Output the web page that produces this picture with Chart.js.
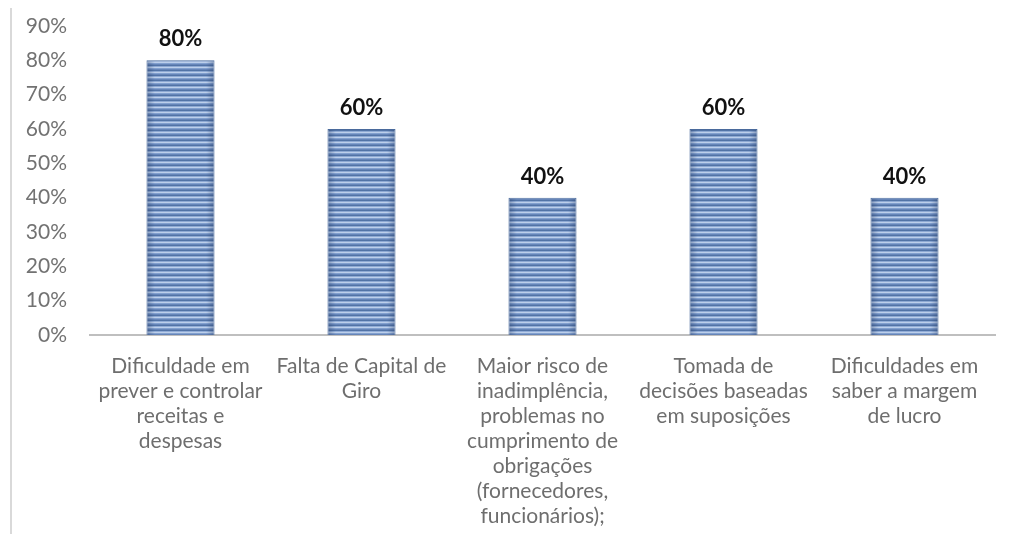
<!DOCTYPE html>
<html>
<head>
<meta charset="utf-8">
<script src="https://cdn.jsdelivr.net/npm/chart.js@4/dist/chart.umd.min.js"></script>
<style>
  html, body { margin: 0; padding: 0; background: #fff; }
  #wrap { width: 1010px; height: 534px; position: relative; }
</style>
</head>
<body>
<div id="wrap"><canvas id="chart" width="1010" height="534"></canvas></div>
<script>
const categories = [
    ['Dificuldade em', 'prever e controlar', 'receitas e', 'despesas'],
    ['Falta de Capital de', 'Giro'],
    ['Maior risco de', 'inadimplência,', 'problemas no', 'cumprimento de', 'obrigações', '(fornecedores,', 'funcionários);'],
    ['Tomada de', 'decisões baseadas', 'em suposições'],
    ['Dificuldades em', 'saber a margem', 'de lucro'],
];
const values = [80, 60, 40, 60, 40];
const yTicks = [0, 10, 20, 30, 40, 50, 60, 70, 80, 90];

const BAR_PCT = 0.376;
const stripeRows = ['#5273a6', '#92add7', '#bccfeb', '#82a0cf', '#6685b8'];

// striped fill like the excel pattern, with darker sides
let tileCache = {};
const makeTile = (w) => {
    if (tileCache[w]) return tileCache[w];
    const c = document.createElement('canvas');
    c.width = w;
    c.height = stripeRows.length;
    const g = c.getContext('2d');
    stripeRows.forEach((col, i) => {
        g.fillStyle = col;
        g.fillRect(0, i, w, 1);
    });
    const grad = g.createLinearGradient(0, 0, w, 0);
    grad.addColorStop(0, 'rgba(30,50,90,0.35)');
    grad.addColorStop(0.12, 'rgba(30,50,90,0)');
    grad.addColorStop(0.88, 'rgba(30,50,90,0)');
    grad.addColorStop(1, 'rgba(30,50,90,0.35)');
    g.fillStyle = grad;
    g.fillRect(0, 0, w, c.height);
    tileCache[w] = c;
    return c;
};

const barFill = (c) => {
    const chart = c.chart;
    const xs = chart.scales.x;
    if (!xs || !chart.chartArea || c.dataIndex === undefined) return '#7d9acb';
    const w = Math.max(1, Math.round(xs.width / categories.length * BAR_PCT));
    const left = xs.getPixelForValue(c.dataIndex) - w / 2;
    const pat = chart.ctx.createPattern(makeTile(w), 'repeat');
    pat.setTransform(new DOMMatrix().translate(left, 0));
    return pat;
};

const valueLabels = {
    id: 'valueLabels',
    afterDatasetsDraw(chart) {
        const ctx = chart.ctx;
        const meta = chart.getDatasetMeta(0);
        ctx.save();
        ctx.font = 'bold 22px Lato';
        ctx.fillStyle = '#111';
        ctx.textAlign = 'center';
        ctx.textBaseline = 'middle';
        meta.data.forEach((bar, i) => {
            ctx.fillText(values[i] + '%', bar.x, bar.y - 21);
        });
        ctx.restore();
    },
};

const sideLine = {
    id: 'sideLine',
    beforeDraw(chart) {
        const ctx = chart.ctx;
        ctx.save();
        ctx.strokeStyle = '#d9d9d9';
        ctx.lineWidth = 2;
        ctx.beginPath();
        ctx.moveTo(11, 8);
        ctx.lineTo(11, 534);
        ctx.stroke();
        ctx.restore();
    },
};

const ctx = document.getElementById('chart').getContext('2d');
new Chart(ctx, {
    type: 'bar',
    data: {
        labels: categories,
        datasets: [{
            data: values,
            backgroundColor: barFill,
            borderColor: '#4a6a9c',
            borderWidth: 1,
            categoryPercentage: 1,
            barPercentage: BAR_PCT,
        }],
    },
    options: {
        responsive: false,
        animation: false,
        layout: { padding: { top: 26, right: 15, left: 0, bottom: 0 } },
        plugins: {
            legend: { display: false },
            tooltip: { enabled: false },
        },
        scales: {
            y: {
                min: 0,
                max: 90,
                afterFit: (scale) => { scale.width = 90; },
                afterBuildTicks: (scale) => { scale.ticks = yTicks.map(v => ({ value: v })); },
                grid: { display: false, drawTicks: false },
                border: { display: false },
                ticks: {
                    padding: 23,
                    color: '#727272',
                    font: { family: 'Lato', size: 21, lineHeight: 0.1 },
                    callback: (v) => v + '%',
                },
            },
            x: {
                afterFit: (scale) => { scale.height = 199; },
                grid: { display: false, drawTicks: false },
                border: { display: true, color: '#bfbfbf', width: 2 },
                ticks: {
                    padding: 19,
                    maxRotation: 0,
                    autoSkip: false,
                    color: '#6e6e6e',
                    font: { family: 'Lato', size: 21, lineHeight: 1.19 },
                },
            },
        },
    },
    plugins: [valueLabels, sideLine],
});
</script>
</body>
</html>
